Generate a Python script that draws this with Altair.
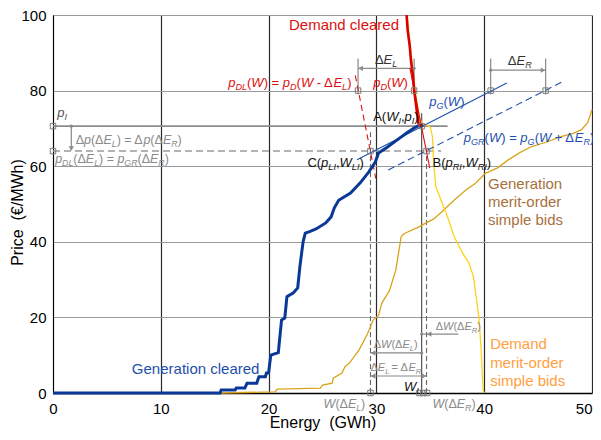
import altair as alt
import pandas as pd

FONT = "Liberation Sans"
X_DOMAIN = [0, 50]
Y_DOMAIN = [0, 100]
X_TICKS = [0, 10, 20, 30, 40, 50]
Y_TICKS = [0, 20, 40, 60, 80, 100]
PLOT_W, PLOT_H = 539, 378

# ---------------- data ----------------
gen_clear_x = [0, 15.5, 15.6, 16.9, 17.0, 17.8, 18.0, 18.9, 19.1, 19.7, 19.8, 20.0, 20.2, 20.9,
               21.2, 21.5, 21.7, 22.3, 22.7, 22.9, 23.2, 23.4, 23.8, 24.4, 25.3, 25.8, 26.1,
               26.5, 27.6, 28.5, 29.3, 29.9, 30.2, 31.0, 31.9, 32.8, 33.5, 34.0, 34.3]
gen_clear_y = [0, 0, 0.8, 0.8, 1.3, 1.3, 2.6, 2.6, 4.3, 4.3, 5.3, 5.3, 10.0, 10.7,
               19.3, 19.8, 25.5, 26.5, 27.8, 33.4, 40.0, 42.3, 42.7, 43.4, 45.0, 46.6, 49.0,
               51.0, 52.9, 55.6, 58.5, 61.1, 63.5, 65.0, 66.9, 68.8, 70.1, 70.9, 70.7]

dem_clear_x = [32.8, 32.9, 33.1, 33.2, 33.4, 33.5, 33.7, 33.9, 34.2]
dem_clear_y = [100, 96.0, 91.6, 88.1, 83.7, 80.2, 75.7, 71.4, 70.6]

gen_bids_x = [15.6, 20.6, 20.8, 24.8, 25.0, 25.9, 26.0, 26.8, 27.1, 27.5, 28.4, 29.2, 29.7, 30.2,
              30.5, 31.2, 31.8, 32.3, 32.6, 34.0, 34.6, 35.3, 36.1, 37.2, 38.3, 39.2, 40.1, 41.2,
              42.2, 43.3, 44.4, 45.8, 47.1, 48.2, 49.0, 49.6, 50.0]
gen_bids_y = [0.0, 0.3, 1.0, 1.3, 2.1, 2.6, 3.9, 5.3, 7.0, 7.9, 11.4, 15.8, 19.3, 20.5,
              23.8, 27.0, 32.5, 41.4, 42.2, 44.0, 45.0, 46.0, 48.0, 51.0, 53.7, 55.5, 58.1, 59.5,
              61.6, 63.6, 65.2, 66.4, 67.8, 68.6, 69.6, 71.5, 75.0]

dem_bids_x = [32.85, 33.2, 33.6, 34.0, 34.3, 35.0, 35.2, 35.3, 35.5, 35.8, 36.1, 36.6, 37.2, 38.0,
              38.6, 39.0, 39.5, 39.7, 39.9, 40.0]
dem_bids_y = [100, 90, 80, 72.5, 71.2, 70.4, 67.8, 61.6, 54.6, 52.5, 50.2, 46.6, 41.4, 37.0,
              34.3, 30.8, 20.2, 12.3, 0.8, 0.0]

# linearised curves around the equilibrium
pg_x, pg_y = [28.2, 42.1], [61.7, 82.0]          # p_G(W)
pgr_x, pgr_y = [31.1, 47.3], [59.0, 82.4]        # p_GR(W)
pd_x, pd_y = [33.1, 34.95], [86.0, 59.5]         # p_D(W)
pdl_x, pdl_y = [28.04, 29.94], [84.0, 56.8]      # p_DL(W)

W_I, P_I = 34.2, 70.6
W_L, W_R = 29.45, 34.65
P_NEW = 64.0
E_L0, E_L1 = 28.3, 33.5
E_R0, E_R1 = 40.6, 45.7

mark_x = [0, 0, E_L0, E_L1, E_R0, E_R1, W_I, W_L, W_R, W_L, 34.0, 34.35, 34.7]
mark_y = [P_I, P_NEW, 80, 80, 80, 80, P_I, P_NEW, P_NEW, 0, 0, 0, 0]

# ---------------- helpers ----------------
XU = PLOT_W / (X_DOMAIN[1] - X_DOMAIN[0])
YU = PLOT_H / (Y_DOMAIN[1] - Y_DOMAIN[0])
xs = alt.Scale(domain=X_DOMAIN, nice=False, zero=False)
ys = alt.Scale(domain=Y_DOMAIN, nice=False, zero=False)

X_AXIS = alt.Axis(
    values=X_TICKS, grid=True, gridColor="#2a2a2a", gridWidth=1.2, ticks=False,
    domainColor="#000000", domainWidth=1.5, labelFont=FONT, labelFontSize=15,
    labelColor="#000000", labelPadding=8, labelFlush=False,
    labelAlign={"condition": {"test": "datum.value == 50", "value": "right"}, "value": "center"},
    title="Energy\u00a0 (GWh)", titleFont=FONT, titleFontSize=16,
    titleFontWeight="normal", titleColor="#000000",
    titleBaseline="alphabetic", titleY=34, titleX=PLOT_W / 2)
Y_AXIS = alt.Axis(
    values=Y_TICKS, grid=True, gridColor="#9a9a9a", gridWidth=1.2, ticks=False,
    domainColor="#000000", domainWidth=1, labelFont=FONT, labelFontSize=15,
    labelColor="#000000", labelPadding=7,
    title="Price\u00a0 (€/MWh)", titleFont=FONT, titleFontSize=16,
    titleFontWeight="normal", titleColor="#000000",
    titleX=-28, titleY=PLOT_H / 2 + 8)

X = alt.X("x:Q", scale=xs, axis=X_AXIS)
Y = alt.Y("y:Q", scale=ys, axis=Y_AXIS)

GRAY = "#8a8a8a"
RED = "#dd1010"
BLUE_T = "#1f4fae"
BLUE = "#0a3897"


def line(xv, yv, color, width, dash=None):
    df = pd.DataFrame({"x": xv, "y": yv, "i": list(range(len(xv)))})
    kw = dict(color=color, strokeWidth=width, clip=False)
    if dash:
        kw["strokeDash"] = dash
    return alt.Chart(df).mark_line(**kw).encode(x=X, y=Y, order="i:Q")


def rules(rows, color, width, dash=None):
    df = pd.DataFrame(rows, columns=["x", "y", "x2", "y2"])
    kw = dict(color=color, strokeWidth=width)
    if dash:
        kw["strokeDash"] = dash
    return alt.Chart(df).mark_rule(**kw).encode(x=X, y=Y, x2="x2:Q", y2="y2:Q")


def pts(xv, yv, shape, size, color, filled, sw=1.0):
    df = pd.DataFrame({"x": xv, "y": yv})
    return alt.Chart(df).mark_point(shape=shape, size=size, color=color, filled=filled,
                                    opacity=1, strokeWidth=sw).encode(x=X, y=Y)


CW = {" ": 278, "(": 333, ")": 333, "=": 584, "-": 333, "+": 584, ",": 278, ".": 278, "Δ": 668,
      "A": 667, "B": 667, "C": 722, "D": 722, "E": 667, "G": 778, "I": 278, "L": 556,
      "R": 722, "W": 944, "p": 556}
SUB = 0.7


def tw(s, fs):
    return sum(CW.get(c, 556) for c in s) * fs / 1000.0


def rich(label, x, y, fs, color, align="left", upright_first=False, plain=False):
    if plain:
        return [dict(x=x, y=y, text=label, italic=False, sub=False, size=fs, color=color,
                     align=align)]
    chars = []
    i = 0
    while i < len(label):
        if label.startswith("_{", i):
            j = label.index("}", i)
            chars.append((label[i + 2:j], True, True))
            i = j + 1
        else:
            c = label[i]
            it = c.isascii() and c.isalpha() and not (upright_first and i == 0)
            chars.append((c, it, False))
            i += 1
    runs = []
    for t, it, sb in chars:
        if runs and (t == " " or runs[-1][1:] == (it, sb)):
            runs[-1] = (runs[-1][0] + t, runs[-1][1], runs[-1][2])
        else:
            runs.append((t, it, sb))
    total = sum(tw(t, fs * SUB if sb else fs) for t, it, sb in runs)
    off = {"left": 0.0, "center": -total / 2, "right": -total}[align]
    out = []
    for t, it, sb in runs:
        f = fs * SUB if sb else fs
        lead = len(t) - len(t.lstrip(" "))
        start = off + tw(" " * lead, f)
        body = t.strip(" ")
        if body:
            out.append(dict(x=x + start / XU, y=y, text=body, italic=it, sub=sb, size=f,
                            color=color, align="left"))
        off += tw(t, f)
    return out


texts = []
texts += rich("ΔE_{L}", 30.9, 87.0, 13, "#333333", align="center")
texts += rich("ΔE_{R}", 43.3, 86.8, 13, "#333333", align="center")
texts += rich("p_{DL}(W) = p_{D}(W - ΔE_{L})", 16.25, 80.9, 13, RED)
texts += rich("p_{D}(W)", 29.7, 80.9, 13, RED)
texts += rich("p_{G}(W)", 34.9, 75.9, 13, BLUE_T)
texts += rich("A(W_{I},p_{I})", 29.7, 72.0, 13, "#111111", upright_first=True)
texts += rich("p_{GR}(W) = p_{G}(W + ΔE_{R})", 38.1, 66.5, 13, BLUE_T)
texts += rich("B(p_{RI},W_{RI})", 35.2, 59.9, 13, "#111111", upright_first=True)
texts += rich("C(p_{LI},W_{LI})", 23.6, 59.9, 13, "#111111", upright_first=True)
texts += rich("p_{I}", 0.4, 73.1, 13, "#555555")
texts += rich("Δp(ΔE_{L}) = Δp(ΔE_{R})", 2.1, 66.0, 12.5, GRAY)
texts += rich("p_{DL}(ΔE_{L}) = p_{GR}(ΔE_{R})", 0.2, 60.9, 12.5, GRAY)
texts += rich("ΔW(ΔE_{R})", 35.5, 16.7, 11, GRAY)
texts += rich("ΔW(ΔE_{L})", 29.75, 11.8, 11, GRAY)
texts += rich("ΔE_{L} = ΔE_{R}", 29.45, 5.8, 11, GRAY)
texts += rich("W_{I}", 32.55, 0.6, 13, "#111111")
texts += rich("W(ΔE_{L})", 25.1, -4.0, 12.5, GRAY)
texts += rich("W(ΔE_{R})", 35.2, -4.0, 12.5, GRAY)
texts += rich("Demand cleared", 32.1, 95.9, 15, RED, align="right", plain=True)
texts += rich("Generation cleared", 19.15, 5.0, 15, BLUE_T, align="right", plain=True)
for txt, yy in zip(["Generation", "merit-order", "simple bids"], [53.9, 49.1, 44.4]):
    texts += rich(txt, 40.35, yy, 15, "#a8703e", plain=True)
for txt, yy in zip(["Demand", "merit-order", "simple bids"], [11.6, 6.7, 1.85]):
    texts += rich(txt, 40.55, yy, 15, "#ffa040", plain=True)
tdf = pd.DataFrame(texts)

text_layers = []
for al in ("left", "right"):
    for it in (False, True):
        for sb in (False, True):
            sub_df = tdf[(tdf["italic"] == it) & (tdf["sub"] == sb) & (tdf["align"] == al)]
            if len(sub_df) == 0:
                continue
            text_layers.append(
                alt.Chart(sub_df).mark_text(align=al, baseline="alphabetic", font=FONT,
                                            fontStyle="italic" if it else "normal",
                                            dy=3 if sb else 0)
                .encode(x=X, y=Y, text="text:N",
                        color=alt.Color("color:N", scale=None),
                        size=alt.Size("size:Q", scale=None))
            )

# ---------------- reference lines & dimensions ----------------
ref_solid = rules([[0, P_I, 36.6, P_I]], "#8c8c8c", 1.6)
ref_dash = rules([[0, P_NEW, 36.0, P_NEW]], "#9a9a9a", 1.5, dash=[7, 4])
vert_solid = rules([[W_I, 0, W_I, 74.0]], "#444444", 1.1)
vert_dash = rules([[W_L, 0, W_L, 69.0], [W_R, 0, W_R, 64.5]], "#666666", 1.1, dash=[5, 3])
dims = rules([
    [E_L0, 85.9, E_L1, 85.9], [E_L0, 79.0, E_L0, 88.5], [E_L1, 79.0, E_L1, 88.5],
    [E_R0, 85.4, E_R1, 85.4], [E_R0, 79.0, E_R0, 88.5], [E_R1, 79.0, E_R1, 88.5],
    [1.7, P_I, 1.7, P_NEW + 0.3],
    [W_I, 15.6, 37.6, 15.6],
    [W_L, 10.6, W_I, 10.6],
    [W_L, 4.5, W_R, 4.5],
], GRAY, 1.2)

ox = 2.6 / XU
oy = 2.6 / YU
arrow_l = pts([E_L0 + ox, W_R + ox, W_L + ox, W_L + ox], [85.9, 15.6, 10.6, 4.5],
              "triangle-left", 28, GRAY, True)
arrow_r = pts([E_R1 - ox, W_R - ox], [85.4, 4.5], "triangle-right", 28, GRAY, True)
arrow_d = pts([1.7], [P_NEW + oy], "triangle-down", 28, GRAY, True)
dots = pts([E_L1, E_R0, 1.7, W_I, W_I], [85.9, 85.4, P_I, 15.6, 10.6], "circle", 10, GRAY, True)
marks = pts(mark_x, mark_y, "square", 30, "#7a7a7a", False, 1.0)

layers = [
    ref_solid, ref_dash, vert_solid, vert_dash, dims,
    line(gen_bids_x, gen_bids_y, "#d9a41c", 1.3),
    line(dem_bids_x, dem_bids_y, "#ffd21a", 1.3),
    line(pdl_x, pdl_y, RED, 1.1, dash=[6, 4]),
    line(pd_x, pd_y, RED, 1.1),
    line(pgr_x, pgr_y, BLUE_T, 1.1, dash=[7, 4]),
    line(pg_x, pg_y, BLUE_T, 1.1),
    line(gen_clear_x, gen_clear_y, BLUE, 3.0),
    line(dem_clear_x, dem_clear_y, "#d80000", 2.6),
    marks, arrow_l, arrow_r, arrow_d, dots,
] + text_layers

chart = alt.layer(*layers).properties(
    width=PLOT_W, height=PLOT_H,
    autosize=alt.AutoSizeParams(type="none"),
    padding={"left": 45, "top": 7, "right": 1, "bottom": 39},
).configure_view(stroke=None)

chart.save("out.html", embed_options={"renderer": "svg", "actions": False})
